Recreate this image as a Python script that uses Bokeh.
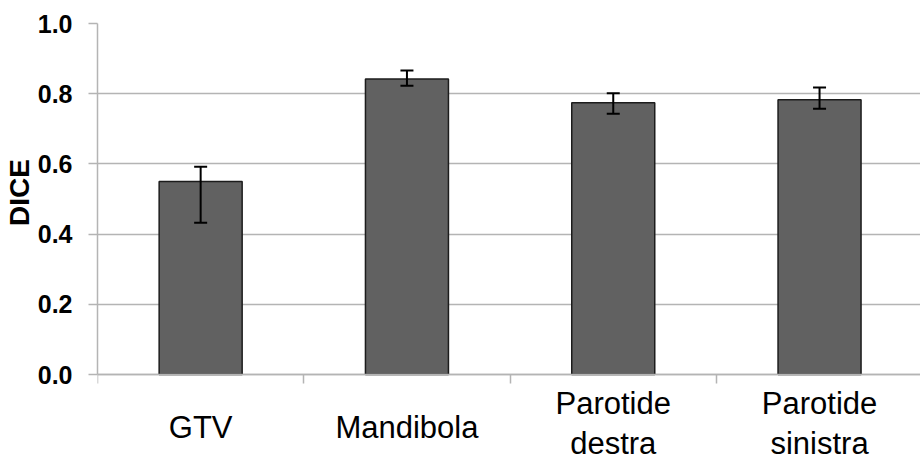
from bokeh.plotting import figure
from bokeh.models import (ColumnDataSource, Whisker, TeeHead, FixedTicker, Range1d,
                          LinearAxis, CustomJSTickFormatter)
from bokeh.core.properties import value
from bokeh.embed import file_html
from bokeh.resources import INLINE

# DICE score per structure: mean and error-bar limits
categories = ["GTV", "Mandibola", "Parotide destra", "Parotide sinistra"]
dice_mean = [0.55, 0.842, 0.774, 0.783]
dice_upper = [0.592, 0.866, 0.801, 0.818]
dice_lower = [0.432, 0.823, 0.743, 0.757]
y_ticks = [0.0, 0.2, 0.4, 0.6, 0.8, 1.0]

W, H = 920, 462
LEFT, TOP = 97, 23
PLOT_PX = 351          # pixel height of the 0..1 value span
LABEL_PX = 88          # room under the zero line for category names
CAT_PX = 206.3         # pixel width of one category slot

x_centers = [i + 0.5 for i in range(len(categories))]
source = ColumnDataSource(dict(x=x_centers, top=dice_mean,
                               upper=dice_upper, lower=dice_lower))

# frame reaches down to the canvas edge so the names can sit below zero
p = figure(width=W, height=H, output_backend="svg", toolbar_location=None,
           x_range=Range1d(0, (W - LEFT) / CAT_PX),
           y_range=Range1d(-LABEL_PX / PLOT_PX, 1.0),
           x_axis_location=None,
           min_border_left=LEFT, min_border_right=0,
           min_border_top=TOP, min_border_bottom=0)
p.outline_line_color = None
p.background_fill_color = "white"
p.border_fill_color = "white"

grid_color = "#b4b4b4"

# y axis, limited to the 0..1 span; leading no-break spaces lift the
# title so it sits centred on that span rather than on the whole frame
p.yaxis.bounds = (0, 1)
p.yaxis.ticker = FixedTicker(ticks=y_ticks)
p.yaxis.formatter = CustomJSTickFormatter(code="return tick.toFixed(1);")
p.yaxis.axis_label = "\u00a0" * 13 + "DICE"
p.yaxis.axis_label_text_font = "Liberation Sans"
p.yaxis.axis_label_text_font_style = "bold"
p.yaxis.axis_label_text_font_size = "28px"
p.yaxis.axis_label_text_color = "black"
p.yaxis.axis_label_standoff = 0
p.yaxis.major_label_text_font = "Liberation Sans"
p.yaxis.major_label_text_font_style = "bold"
p.yaxis.major_label_text_font_size = "25px"
p.yaxis.major_label_text_color = "black"
p.yaxis.major_label_standoff = 16
p.yaxis.major_tick_out = 9
p.yaxis.major_tick_in = 0
p.yaxis.minor_tick_out = 0
p.yaxis.minor_tick_in = 0
p.yaxis.axis_line_color = grid_color
p.yaxis.axis_line_width = 1.5
p.yaxis.major_tick_line_color = grid_color
p.yaxis.major_tick_line_width = 1.5

# x axis pinned at zero, ticks on the category boundaries, no tick labels
xaxis = LinearAxis(fixed_location=0,
                   ticker=FixedTicker(ticks=list(range(len(categories) + 1))),
                   formatter=CustomJSTickFormatter(code="return '';"),
                   major_tick_out=9, major_tick_in=0,
                   minor_tick_out=0, minor_tick_in=0,
                   axis_line_color=grid_color, axis_line_width=1.5,
                   major_tick_line_color=grid_color, major_tick_line_width=1.5)
p.add_layout(xaxis, "below")

p.xgrid.grid_line_color = None
p.ygrid.ticker = FixedTicker(ticks=y_ticks)
p.ygrid.grid_line_color = grid_color
p.ygrid.grid_line_width = 1.5

p.vbar(x="x", top="top", width=83 / CAT_PX, bottom=0, source=source,
       fill_color="#616161", line_color="#1c1c1c", line_width=1.5)

whisker = Whisker(source=source, base="x", upper="upper", lower="lower",
                  level="annotation",
                  line_color="black", line_width=2,
                  upper_head=TeeHead(size=13, line_color="black", line_width=2),
                  lower_head=TeeHead(size=13, line_color="black", line_width=2))
p.add_layout(whisker)

# category names below the zero line (two-word names on two lines)
lx, ly, lt, loff = [], [], [], []
for xc, name in zip(x_centers, categories):
    lines = name.split(" ")
    offsets = [53] if len(lines) == 1 else [29, 69]
    for txt, off in zip(lines, offsets):
        lx.append(xc)
        ly.append(0)
        lt.append(txt)
        loff.append(off)
label_src = ColumnDataSource(dict(x=lx, y=ly, text=lt, off=loff))
p.text(x="x", y="y", text="text", y_offset="off", source=label_src,
       text_align="center", text_baseline="alphabetic",
       text_font=value("Liberation Sans"), text_font_size="31px",
       text_color="black")

open("out.html", "w").write(file_html(p, INLINE))
